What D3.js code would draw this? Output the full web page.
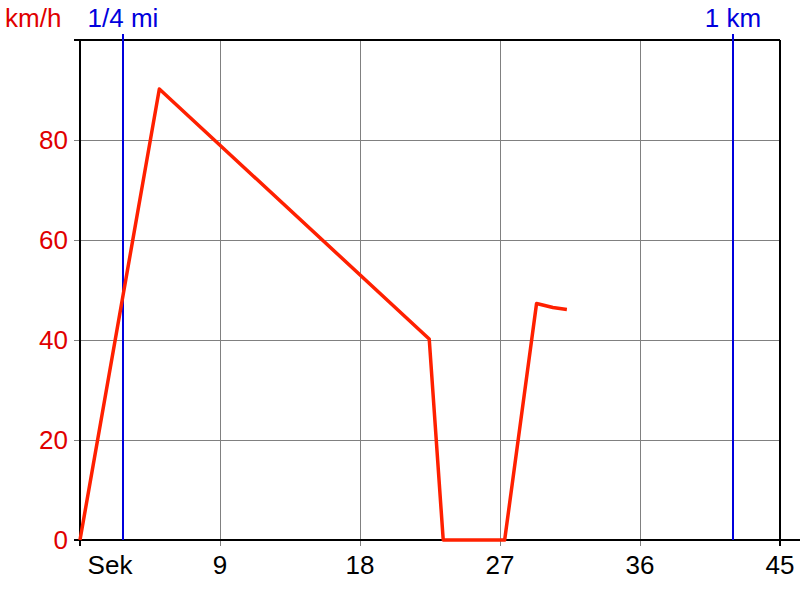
<!DOCTYPE html>
<html><head><meta charset="utf-8">
<script src="https://cdn.jsdelivr.net/npm/d3@7"></script>
<style>body{margin:0;background:#fff}svg{display:block}text{font-family:"Liberation Sans",Arial,sans-serif}</style>
</head><body>
<svg id="c" width="800" height="600"></svg>
<script>
const timeSec = [0, 5.1, 22.45, 23.35, 27.3, 29.35, 30.4, 31.3];
const speedKmh = [0, 90.2, 40.2, 0, 0, 47.3, 46.5, 46.1];
const xTicks = [9, 18, 27, 36, 45];
const yTicks = [0, 20, 40, 60, 80];
const markers = [{label: "1/4 mi", t: 2.76}, {label: "1 km", t: 41.98}];

const svg = d3.select("#c");
const L = 80, R = 780, T = 40, B = 540;
const FS = 26;
const x = d3.scaleLinear().domain([0, 45]).range([L, R]);
const y = d3.scaleLinear().domain([0, 100]).range([B, T]);

// grid (extends slightly past axes as ticks)
svg.append("g").selectAll("line").data(xTicks.slice(0, -1)).join("line")
  .attr("x1", d => x(d)).attr("x2", d => x(d)).attr("y1", T).attr("y2", B + 6)
  .attr("stroke", "#808080").attr("stroke-width", 1).attr("shape-rendering", "crispEdges");
svg.append("g").selectAll("line").data(yTicks.slice(1)).join("line")
  .attr("x1", L - 6).attr("x2", R).attr("y1", d => y(d)).attr("y2", d => y(d))
  .attr("stroke", "#808080").attr("stroke-width", 1).attr("shape-rendering", "crispEdges");

// frame
const fr = svg.append("g").attr("stroke", "#000").attr("stroke-width", 2).attr("shape-rendering", "crispEdges");
fr.append("line").attr("x1", L - 6).attr("x2", R).attr("y1", T).attr("y2", T);
fr.append("line").attr("x1", R).attr("x2", R).attr("y1", T).attr("y2", B + 6);
fr.append("line").attr("x1", L).attr("x2", L).attr("y1", T).attr("y2", B + 6);
fr.append("line").attr("x1", L - 6).attr("x2", 800).attr("y1", B).attr("y2", B);

// marker lines
markers.forEach(m => {
  svg.append("line").attr("x1", x(m.t)).attr("x2", x(m.t)).attr("y1", 34).attr("y2", B)
    .attr("stroke", "#0000dd").attr("stroke-width", 2).attr("shape-rendering", "crispEdges");
  svg.append("text").attr("x", x(m.t)).attr("y", 27).attr("text-anchor", "middle")
    .attr("font-size", FS).attr("fill", "#0000dd").text(m.label);
});

// y labels
svg.append("g").selectAll("text").data(yTicks).join("text")
  .attr("x", 68).attr("y", d => y(d) + 9).attr("text-anchor", "end")
  .attr("font-size", FS).attr("fill", "#e00000").text(d => d);
svg.append("text").attr("x", 5).attr("y", 27).attr("font-size", FS).attr("fill", "#e00000").text("km/h");

// x labels
svg.append("g").selectAll("text").data(xTicks).join("text")
  .attr("x", d => x(d)).attr("y", 574).attr("text-anchor", "middle")
  .attr("font-size", FS).attr("fill", "#000").text(d => d);
svg.append("text").attr("x", 110).attr("y", 574).attr("text-anchor", "middle")
  .attr("font-size", FS).attr("fill", "#000").text("Sek");

// data line
const line = d3.line().x((d, i) => x(timeSec[i])).y((d, i) => y(speedKmh[i])).curve(d3.curveLinear);
svg.append("path").datum(speedKmh).attr("d", line)
  .attr("fill", "none").attr("stroke", "#ff2000").attr("stroke-width", 3.5).attr("stroke-linejoin", "round");
</script>
</body></html>
